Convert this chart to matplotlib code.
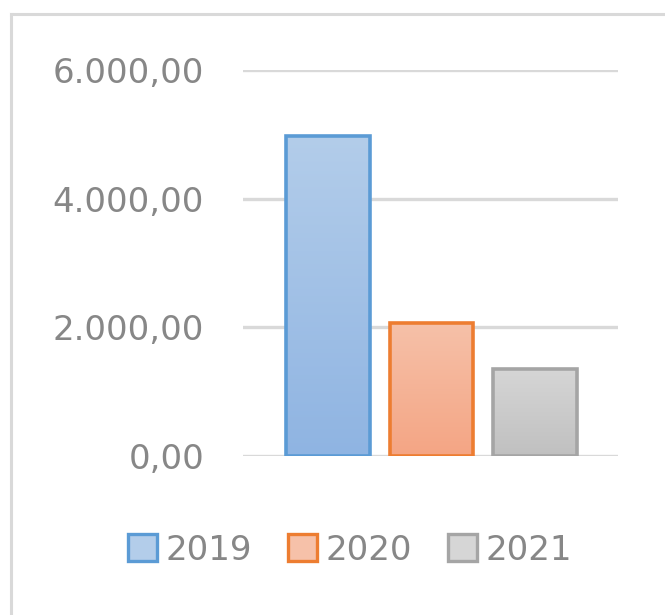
import matplotlib
matplotlib.use("Agg")
import matplotlib.pyplot as plt
import numpy as np
from matplotlib.patches import Patch
from matplotlib.colors import LinearSegmentedColormap
from matplotlib.ticker import FuncFormatter

series = ["2019", "2020", "2021"]
values = [4980, 2070, 1360]
yticks = [0, 2000, 4000, 6000]
edge_colors = ["#5B9BD5", "#ED7D31", "#A5A5A5"]
top_colors = ["#B3CDEA", "#F6C1A9", "#D6D6D6"]
bottom_colors = ["#8FB4E2", "#F4A584", "#C0C0C0"]

plt.rcParams['font.family'] = ['DejaVu Sans']

fig = plt.figure(figsize=(6.65, 6.15), dpi=100)
W, H = 665, 615
ax = fig.add_axes([243 / W, (H - 456) / H, (618 - 243) / W, (456 - 70) / H])

x = np.arange(len(series))
bars = ax.bar(x, values, width=0.81, facecolor="none", edgecolor=edge_colors,
              linewidth=2.6, zorder=3)
for b, tc, bc in zip(bars, top_colors, bottom_colors):
    cmap = LinearSegmentedColormap.from_list("g", [bc, tc])
    grad = np.linspace(0, 1, 256).reshape(-1, 1)
    x0, y0 = b.get_x(), b.get_y()
    im = ax.imshow(grad, cmap=cmap, aspect="auto", origin="lower",
                   extent=[x0, x0 + b.get_width(), y0, y0 + b.get_height()],
                   zorder=2, interpolation="bilinear")
    im.set_clip_path(b)

ax.set_xlim(-0.82, 2.8)
ax.set_ylim(0, 6000)
ax.set_yticks(yticks)
ax.yaxis.set_major_formatter(FuncFormatter(
    lambda v, p: f"{v:,.2f}".replace(",", "X").replace(".", ",").replace("X", ".")))
ax.set_xticks([])
ax.tick_params(axis="y", length=0, pad=28, labelsize=24.5, labelcolor="#878787")
for s in ax.spines.values():
    s.set_visible(False)
ax.grid(axis="y", color="#D9D9D9", linewidth=2.4, zorder=0)
ax.set_axisbelow(True)

handles = [Patch(facecolor=(tc), edgecolor=ec, linewidth=2.4)
           for tc, ec in zip(top_colors, edge_colors)]
fig.legend(handles, series, loc="center", bbox_to_anchor=(350 / W, 1 - 550 / H),
           ncol=3, frameon=False, fontsize=24.5, labelcolor="#878787",
           handlelength=0.85, handleheight=0.85, handletextpad=0.25,
           columnspacing=1.05)

# outer chart border (top and left)
fig.add_artist(plt.Line2D([11 / W, 1.0], [1 - 14 / H, 1 - 14 / H],
                          transform=fig.transFigure, color="#D9D9D9", linewidth=2.2))
fig.add_artist(plt.Line2D([11 / W, 11 / W], [0, 1 - 14 / H],
                          transform=fig.transFigure, color="#D9D9D9", linewidth=2.2))

fig.savefig("out.png", dpi=100)
